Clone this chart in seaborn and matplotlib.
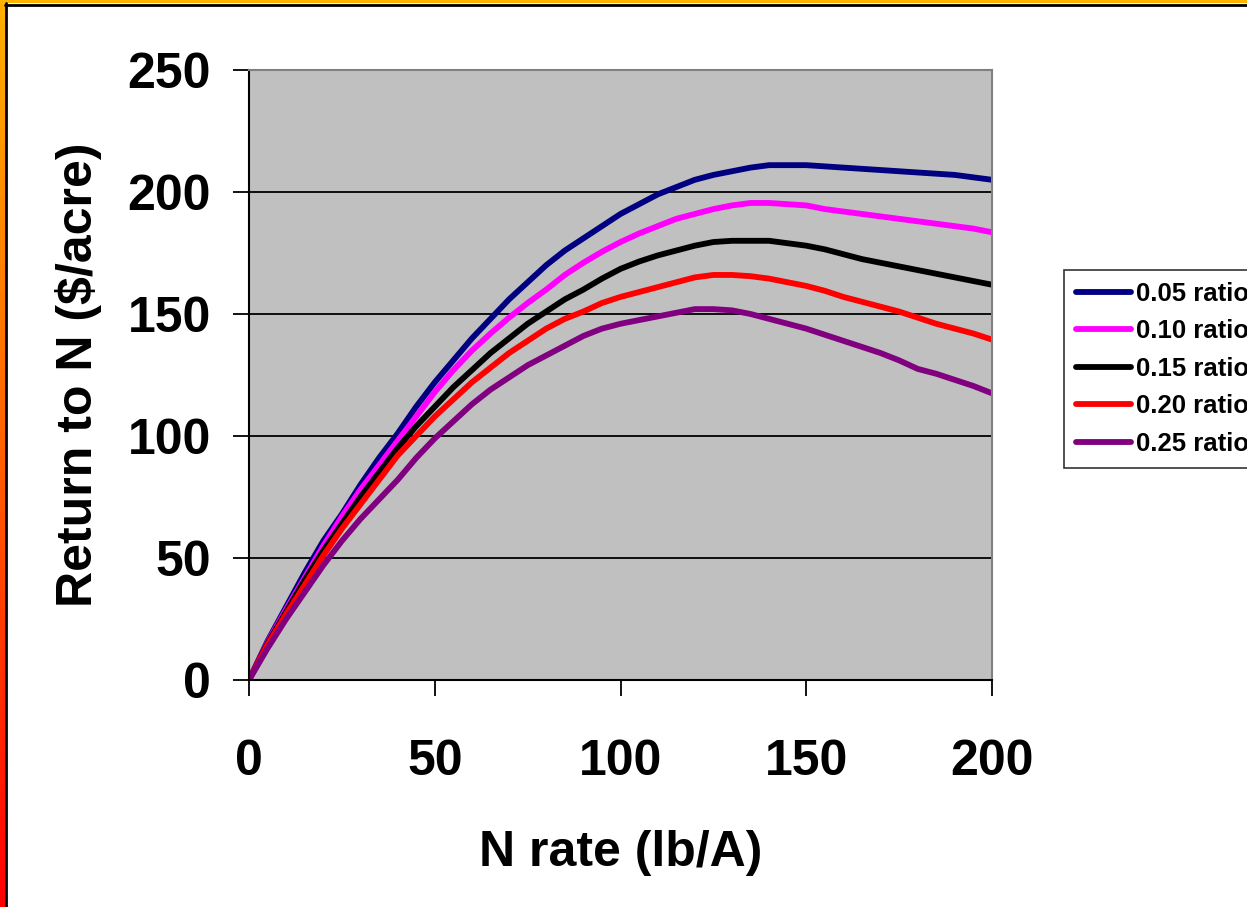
import numpy as np
import pandas as pd
import matplotlib
matplotlib.use('Agg')
import matplotlib.pyplot as plt
import seaborn as sns
from matplotlib.colors import LinearSegmentedColormap
from matplotlib.lines import Line2D

# Data (every 5 lb/A)
n_rate = list(range(0, 205, 5))
r05 = [0, 16, 30, 44, 57, 68, 80, 91, 101, 112, 122, 131, 140, 148, 156,
       163, 170, 176, 181, 186, 191, 195, 199, 202, 205, 207, 208.5, 210,
       211, 211, 211, 210.5, 210, 209.5, 209, 208.5, 208, 207.5, 207, 206, 205]
r10 = [0, 15.5, 29, 42, 55, 67, 78, 88, 98, 108, 118, 127, 135, 142, 148.5,
       154.5, 160, 166, 171, 175.5, 179.5, 183, 186, 189, 191, 193, 194.5,
       195.5, 195.5, 195, 194.5, 193, 192, 191, 190, 189, 188, 187, 186, 185, 183.5]
r15 = [0, 15, 28, 41, 53, 64, 75, 85, 95, 104, 112, 120, 127, 134, 140,
       146, 151, 156, 160, 164.5, 168.5, 171.5, 174, 176, 178, 179.5, 180,
       180, 180, 179, 178, 176.5, 174.5, 172.5, 171, 169.5, 168, 166.5, 165, 163.5, 162]
r20 = [0, 14.5, 27, 39, 51, 62, 72, 82, 92, 100, 108, 115, 122, 128, 134,
       139, 144, 148, 151, 154.5, 157, 159, 161, 163, 165, 166, 166, 165.5,
       164.5, 163, 161.5, 159.5, 157, 155, 153, 151, 148.5, 146, 144, 142, 139.5]
r25 = [0, 13, 25, 36, 47, 57, 66, 74, 82, 91, 99, 106, 113, 119, 124,
       129, 133, 137, 141, 144, 146, 147.5, 149, 150.5, 152, 152, 151.5, 150,
       148, 146, 144, 141.5, 139, 136.5, 134, 131, 127.5, 125.5, 123, 120.5, 117.5]

labels = ['0.05 ratio', '0.10 ratio', '0.15 ratio', '0.20 ratio', '0.25 ratio']
colors = ['#000080', '#FF00FF', '#000000', '#FF0000', '#800080']
x_ticks = [0, 50, 100, 150, 200]
y_ticks = [0, 50, 100, 150, 200, 250]

df = pd.concat([
    pd.DataFrame({'N rate': n_rate, 'Return': vals, 'Ratio': lab})
    for vals, lab in zip([r05, r10, r15, r20, r25], labels)
])

sns.set_style('white')
plt.rcParams['font.family'] = ['Liberation Sans', 'DejaVu Sans']
plt.rcParams['font.weight'] = 'bold'
plt.rcParams['text.color'] = 'black'
plt.rcParams['axes.labelcolor'] = 'black'
plt.rcParams['xtick.color'] = 'black'
plt.rcParams['ytick.color'] = 'black'

fig = plt.figure(figsize=(12.47, 9.07), dpi=100)
W, H = 1247, 907

# slide-style frame: orange/red strips and a black rule
grad = LinearSegmentedColormap.from_list('edge', ['#FFB000', '#FF6000', '#FF0000'])
bax = fig.add_axes([0, 0, 5 / W, 1])
bax.imshow(np.linspace(0, 1, 256).reshape(-1, 1), aspect='auto', cmap=grad)
bax.axis('off')
tax = fig.add_axes([0, 1 - 3 / H, 1, 3 / H])
tax.set_facecolor('#FFB400')
tax.set_xticks([])
tax.set_yticks([])
for s in tax.spines.values():
    s.set_visible(False)
fig.add_artist(Line2D([6 / W, 6 / W], [0, 1 - 3 / H], color='black', lw=2))
fig.add_artist(Line2D([5 / W, 1], [1 - 4.5 / H, 1 - 4.5 / H], color='black', lw=2))

ax = fig.add_axes([249 / W, 227 / H, 743 / W, 610 / H])
ax.set_facecolor('#C0C0C0')
sns.lineplot(data=df, x='N rate', y='Return', hue='Ratio', palette=colors,
             linewidth=4.2, legend=False, ax=ax)

ax.set_xlim(0, 200)
ax.set_ylim(0, 250)
ax.set_xticks(x_ticks)
ax.set_yticks(y_ticks)
ax.yaxis.grid(True, color='black', linewidth=1.3)
ax.set_axisbelow(True)

for side in ['left', 'bottom']:
    ax.spines[side].set_color('black')
    ax.spines[side].set_linewidth(1.5)
for side in ['top', 'right']:
    ax.spines[side].set_color('#808080')
    ax.spines[side].set_linewidth(1.5)

ax.tick_params(axis='both', direction='out', length=11.5, width=1.3,
               color='black', labelcolor='black', labelsize=36,
               bottom=True, left=True)
ax.tick_params(axis='x', pad=31)
ax.tick_params(axis='y', pad=16)
for t in ax.get_xticklabels() + ax.get_yticklabels():
    t.set_fontweight('bold')

ax.set_xlabel('N rate (lb/A)', fontsize=36, fontweight='bold', va='center', color='black')
ax.set_ylabel('Return to N ($/acre)', fontsize=36, fontweight='bold', va='center', color='black')
ax.xaxis.set_label_coords(0.5, (680 - 853) / 610)
ax.yaxis.set_label_coords((79 - 249) / 743, 0.5)

handles = [Line2D([], [], color=c, lw=4.2) for c in colors]
leg = fig.legend(handles, labels, loc='upper left',
                 bbox_to_anchor=(1064 / W, 1 - 270 / H),
                 prop={'family': 'Liberation Sans', 'weight': 'bold', 'size': 18.5},
                 frameon=True, fancybox=False, borderaxespad=0,
                 handlelength=2.14, handletextpad=0.23, labelspacing=0.53,
                 borderpad=0.45)
leg.get_frame().set_edgecolor('black')
leg.get_frame().set_linewidth(1.2)
for txt in leg.get_texts():
    txt.set_color('black')

fig.savefig('out.png', dpi=100)
plt.close(fig)
